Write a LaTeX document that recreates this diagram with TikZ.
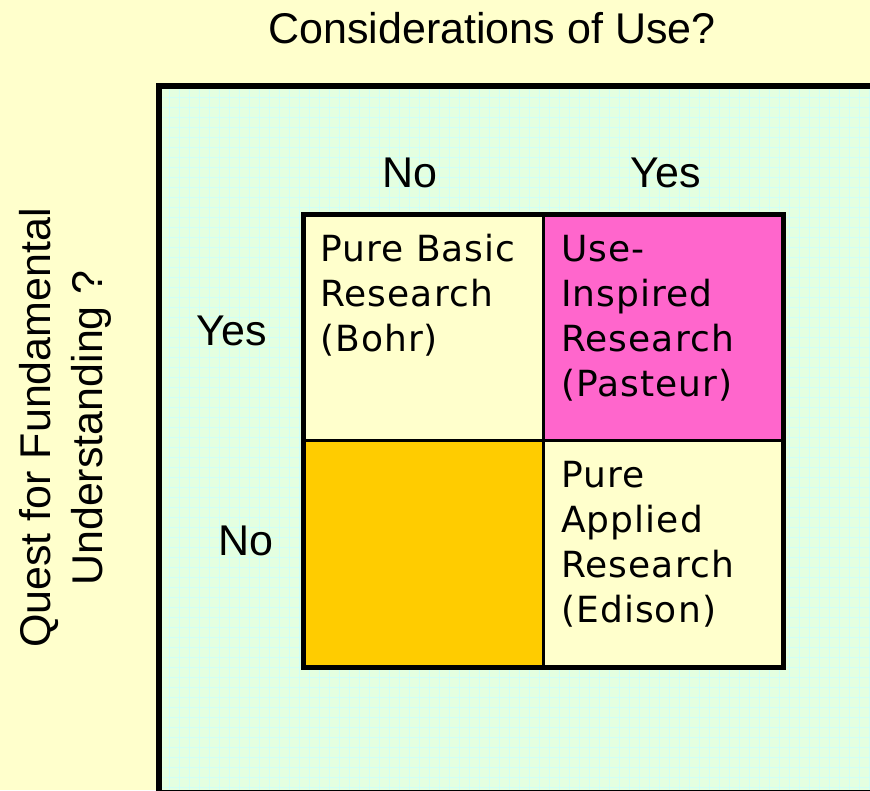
\documentclass[tikz,border=0pt]{standalone}
\usepackage{fontspec}
\setmainfont{Liberation Sans}
\newfontfamily\cellfont[LetterSpace=3]{DejaVu Sans}
\definecolor{bgyellow}{RGB}{255,255,204}
\definecolor{panelgreen}{RGB}{228,255,224}
\definecolor{gridcyan}{RGB}{208,255,246}
\definecolor{cellyellow}{RGB}{255,255,204}
\definecolor{cellpink}{RGB}{255,102,204}
\definecolor{cellgold}{RGB}{255,204,0}
\tikzset{
  lbl/.style={anchor=base, inner sep=0pt, font=\fontsize{43}{52}\selectfont},
  cellbox/.style={anchor=north west, inner sep=0pt, draw=none, minimum width=239.5pt, minimum height=226pt},
  celltext/.style={anchor=north west, inner sep=0pt, align=left, font=\cellfont\fontsize{36}{45}\selectfont},
  gridline/.style={gridcyan, line width=1pt},
  divider/.style={line width=3pt, line cap=butt},
}
\newcommand{\cstrut}{\rule{0pt}{28pt}}
\begin{document}
\begin{tikzpicture}[x=1pt,y=-1pt]
\useasboundingbox (0,0) rectangle (870,790);
\fill[bgyellow] (0,0) rectangle (870,790);
\begin{scope}
  \clip (0,0) rectangle (870,790);
  \fill[panelgreen] (159,86) rectangle (880,800);
  \foreach \gx in {169,179,...,869} \draw[gridline] (\gx,87) -- (\gx,790);
  \foreach \gy in {97,107,...,787} \draw[gridline] (160,\gy) -- (870,\gy);
  \draw[line width=6pt, line join=miter] (159,800) -- (159,86) -- (880,86);
  \draw[line width=3pt] (159,791) -- (880,791);
\end{scope}

% cells
\node[cellbox, fill=cellyellow] (pb) at (303.5,214.5) {};
\node[cellbox, fill=cellpink] (ui) at (543,214.5) {};
\node[cellbox, fill=cellgold] (em) at (303.5,440.5) {};
\node[cellbox, fill=cellyellow, minimum width=240pt, minimum height=227pt] (pa) at (543,440.5) {};
\draw[divider] (ui.north west) -- (pa.south west);
\draw[divider] (em.north west) -- (pa.north east);
\draw[line width=5pt] (pb.north west) rectangle (pa.south east);

% cell texts
\node[celltext] (tpb) at (320,233) {\cstrut Pure Basic\\Research\\(Bohr)};
\node[celltext] (tui) at (561,233) {\cstrut Use-\\Inspired\\Research\\(Pasteur)};
\node[celltext] (tpa) at (561,459) {\cstrut Pure\\Applied\\Research\\(Edison)};

% labels
\node[lbl] (title) at (492,43.5) {Considerations of Use?};
\node[lbl] (cno) at (410,187) {No};
\node[lbl] (cyes) at (666,187) {Yes};
\node[lbl] (ryes) at (232,345) {Yes};
\node[lbl] (rno) at (246,555) {No};
\node[lbl, rotate=90] (q1) at (50,428) {Quest for Fundamental};
\node[lbl, rotate=90] (q2) at (102,428) {Understanding ?};
\end{tikzpicture}
\end{document}
